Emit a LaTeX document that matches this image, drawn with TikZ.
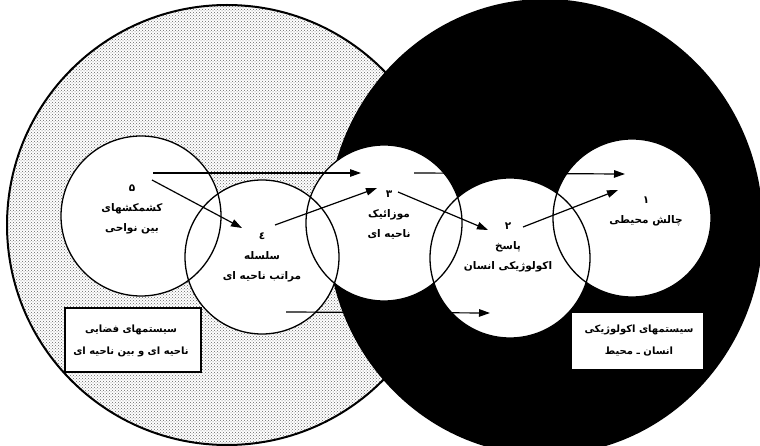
\documentclass[tikz,border=0pt]{standalone}
\usepackage{fontspec}
\newfontfamily\arabicfont[Script=Arabic,UprightFont=* Bold]{DejaVu Sans}
\TeXXeTstate=1
\usetikzlibrary{arrows.meta,patterns,shapes.geometric}
\newcommand{\fa}[1]{{\arabicfont\beginR #1\endR}}
\begin{document}
\begin{tikzpicture}[x=1pt,y=-1pt,
  bigL/.style={circle, minimum size=440pt, inner sep=0pt, draw=black, line width=2pt,
    preaction={fill=white}, pattern=crosshatch dots, pattern color=black!60},
  bigR/.style={ellipse, minimum width=436pt, minimum height=456pt, inner sep=0pt, fill=black},
  small/.style={circle, inner sep=0pt, fill=white},
  ring/.style={draw=black, line width=1.3pt},
  arr/.style={draw=black, line width=1.2pt, -{Triangle[length=11pt,width=7.5pt]}},
  lbl/.style={font=\fontsize{10.5}{20}\selectfont, align=center, text=black, inner sep=0pt},
  boxL/.style={draw=black, fill=white, line width=1.8pt, minimum width=136pt, minimum height=64pt, inner sep=0pt},
  boxR/.style={draw=black, fill=white, line width=0.6pt, minimum width=132pt, minimum height=57pt, inner sep=0pt},
  boxtxt/.style={font=\fontsize{10}{22}\selectfont, align=center, text=black, inner sep=0pt}
]
\useasboundingbox (0,0) rectangle (760,446);
\clip (0,0) rectangle (760,446);
\fill[white] (0,0) rectangle (760,446);

% large regions
\node[bigL] (L) at (227,225) {};
\node[bigR] (R) at (545,227) {};

% small circles (fills)
\node[small, minimum size=160pt] (c5) at (141,216) {};
\node[small, minimum size=154pt] (c4) at (262,257) {};
\node[small, minimum size=156pt] (c3) at (384,223) {};
\node[small, minimum size=160pt] (c2) at (510,258) {};
\node[small, minimum size=158pt] (c1) at (632,218) {};
% outlines
\draw[ring] (c5) circle[radius=80pt];
\draw[ring] (c4) circle[radius=77pt];
\draw[ring] (c3) circle[radius=78pt];
\draw[ring] (c2) circle[radius=80pt];
\draw[ring] (c1) circle[radius=79pt];

% boxes
\node[boxL] (bL) at (133,340) {};
\node[boxtxt] (bLt) at (131,341) {\fa{سیستمهای فضایی}\\\fa{ناحیه ای و بین ناحیه ای}};
\node[boxR] (bR) at (637,341) {};
\node[boxtxt] (bRt) at (639,341) {\fa{سیستمهای اکولوژیکی}\\\fa{انسان ـ محیط}};

% labels
\node[lbl] (t5) at (132,209) {\fa{۵}\\\fa{کشمکشهای}\\\fa{بین نواحی}};
\node[lbl] (t4) at (262,257) {\fa{٤}\\\fa{سلسله}\\\fa{مراتب ناحیه ای}};
\node[lbl] (t3) at (389,215) {\fa{۳}\\\fa{موزائیک}\\\fa{ناحیه ای}};
\node[lbl] (t2) at (508,247) {\fa{۲}\\\fa{پاسخ}\\\fa{اکولوژیکی انسان}};
\node[lbl] (t1) at (646,211) {\fa{۱}\\\fa{چالش محیطی}};

% arrow end points
\coordinate (a1s) at (153,173); \coordinate (a1e) at (361,173);
\coordinate (a2s) at (152,180); \coordinate (a2e) at (242,228);
\coordinate (a3s) at (275,225); \coordinate (a3e) at (377,188);
\coordinate (a4s) at (398,192); \coordinate (a4e) at (488,230);
\coordinate (a5s) at (523,227); \coordinate (a5e) at (618,190);
\coordinate (a6s) at (414,173); \coordinate (a6e) at (625,174);
\coordinate (a7s) at (286,312); \coordinate (a7e) at (490,313);

\draw[arr] (a1s) -- (a1e);
\draw[arr] (a2s) -- (a2e);
\draw[arr] (a3s) -- (a3e);
\draw[arr] (a4s) -- (a4e);
\draw[arr] (a5s) -- (a5e);
\draw[arr] (a6s) -- (a6e);
\draw[arr] (a7s) -- (a7e);
\end{tikzpicture}
\end{document}
